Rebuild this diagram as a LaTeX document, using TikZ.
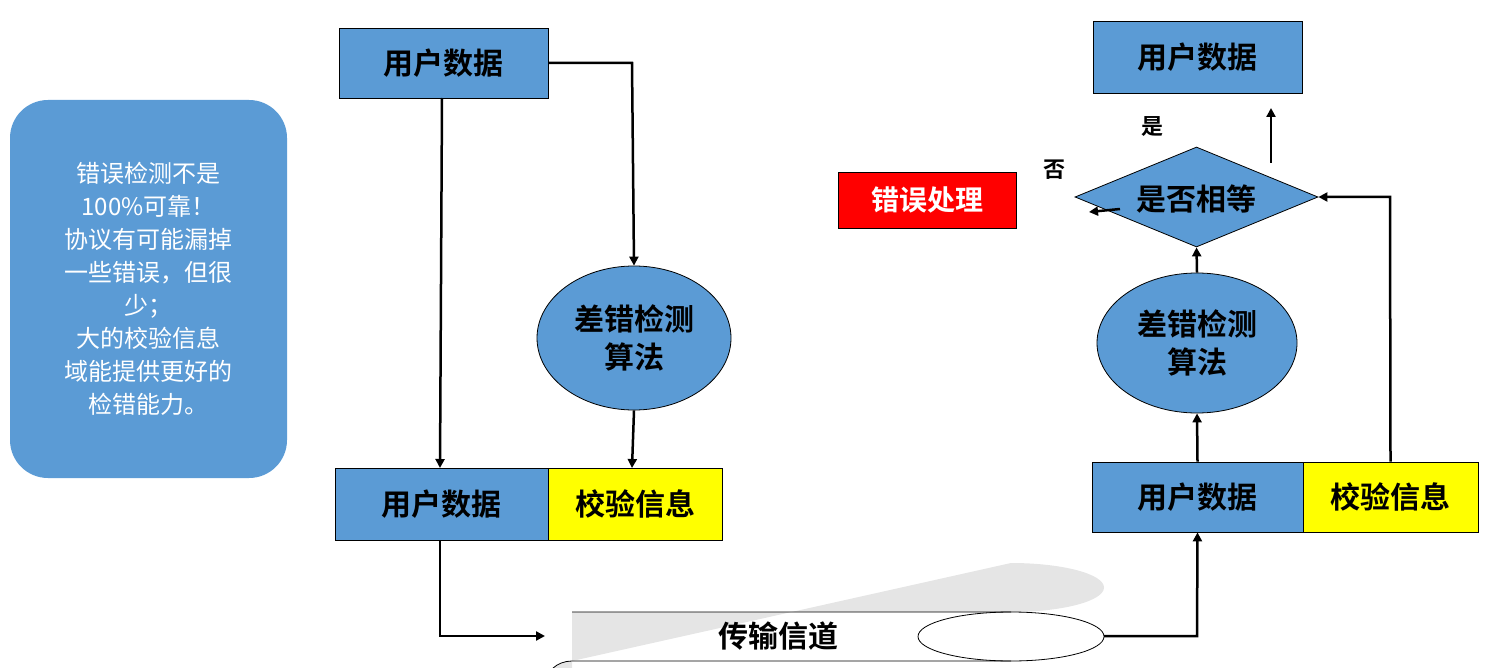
\documentclass[tikz,border=0pt]{standalone}
\usepackage{fontspec}
\setmainfont{Noto Sans CJK SC}
\newfontfamily\cjkb{Noto Sans CJK SC Bold}
\usetikzlibrary{shapes.geometric,arrows.meta}
\definecolor{bl}{HTML}{5B9BD5}
\definecolor{yl}{HTML}{FFFF00}
\begin{document}
\begin{tikzpicture}[x=1pt,y=-1pt,
  box/.style={draw=black,line width=0.8pt,fill=bl,font=\cjkb\fontsize{30}{34}\selectfont,inner sep=0pt},
  ybox/.style={box,fill=yl},
  ell/.style={draw=black,line width=0.8pt,fill=bl,ellipse,inner sep=0pt,font=\cjkb\fontsize{30}{38}\selectfont,align=center},
  arr/.style={line width=2.5pt,-{Triangle[length=9pt,width=9pt]}}]
\useasboundingbox (0,0) rectangle (1493,668);
% left note
\node[fill=bl,rounded corners=38pt,minimum width=277pt,minimum height=378pt,text=white,align=center,
  font=\fontsize{24}{33}\selectfont] (note) at (148.5,289) {错误检测不是\\100\%可靠！\\协议有可能漏掉\\一些错误，但很\\少；\\大的校验信息\\域能提供更好的\\检错能力。};
% left side
\node[box,minimum width=209pt,minimum height=70pt] (ud1) at (443.5,63) {用户数据};
\node[ell,minimum width=194pt,minimum height=144pt] (alg1) at (634,338) {差错检测\\算法};
\node[box,minimum width=213pt,minimum height=72pt] (ud2) at (441.5,504) {用户数据};
\node[ybox,minimum width=174pt,minimum height=72pt] (ck2) at (635,504) {校验信息};
% channel
\fill[gray!20] (572,612) -- (1011,612) arc[start angle=90,end angle=-90,x radius=93,y radius=24.5] -- (572,661) arc[start angle=270,end angle=90,x radius=27,y radius=24.5] -- cycle;
\draw[line width=0.8pt] (572,612) -- (1011,612) (572,661) -- (1011,661)
  (572,661) arc[start angle=270,end angle=90,x radius=27,y radius=24.5];
\draw[line width=0.8pt] (1011,636.5) ellipse[x radius=93,y radius=24.5];
\node[font=\cjkb\fontsize{30}{34}\selectfont] (ch) at (778,636) {传输信道};
\coordinate (chL) at (545,636);
\coordinate (chR) at (1104,636);
% right side
\node[box,minimum width=211pt,minimum height=70pt] (ud3) at (1197.5,497) {用户数据};
\node[ybox,minimum width=175pt,minimum height=70pt] (ck3) at (1390.5,497) {校验信息};
\node[ell,minimum width=200pt,minimum height=140pt] (alg2) at (1197,343) {差错检测\\算法};
\node[diamond,draw=black,line width=0.8pt,fill=bl,minimum width=243pt,minimum height=100pt,inner sep=0pt,aspect=2.43] (eq) at (1196.5,197) {};
\node[font=\cjkb\fontsize{30}{34}\selectfont] (eqt) at (1196,199) {是否相等};
\node[box,minimum width=209pt,minimum height=72pt] (ud4) at (1197.5,57) {用户数据};
\node[fill=red,draw=black,line width=0.5pt,text=white,font=\cjkb\fontsize{28}{32}\selectfont,minimum width=178pt,minimum height=56pt,inner sep=0pt] (err) at (927,200) {错误处理};
\node[font=\cjkb\fontsize{22}{24}\selectfont] (yes) at (1152,127) {是};
\node[font=\cjkb\fontsize{22}{24}\selectfont] (no) at (1054,170) {否};
% arrows
\draw[arr] (ud1.east) -- (632,63) -- (alg1.north);
\draw[arr] (442,98) -- (440,468);
\draw[arr] (alg1.south) -- (632,468);
\draw[arr] (440,540) -- (440,636) -- (chL);
\draw[arr] (chR) -- (1197,636) -- (ud3.south);
\draw[arr] (ud3.north) -- (alg2.south);
\draw[arr] (alg2.north) -- (eq.south);
\draw[arr] (ck3.north) -- (1390,197) -- (eq.east);
\coordinate (upS) at (1271,163); \coordinate (upE) at (1271,108);
\draw[arr] (upS) -- (upE);
\coordinate (lS) at (1120,209); \coordinate (lE) at (1089,212);
\draw[arr] (lS) -- (lE);
\end{tikzpicture}
\end{document}
